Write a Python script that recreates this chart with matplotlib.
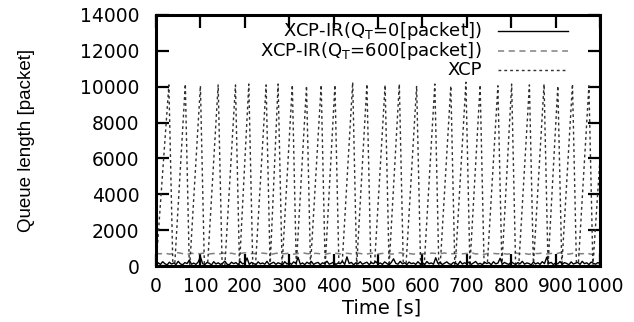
import matplotlib
matplotlib.use("Agg")
import matplotlib.pyplot as plt

# ---------------- data ----------------
# XCP-IR (Q_T = 0 packet): sampled every 5 s
ir0_t_step = 5
ir0_q = [0, 180, 90, 240, 130, 60, 210, 110, 170, 80, 260, 120, 70, 190, 140, 330, 100, 160, 90, 220,
         520, 130, 80, 200, 150, 60, 240, 110, 180, 90, 150, 270, 100, 70, 210, 130, 190, 80, 250, 120,
         160, 450, 90, 200, 140, 70, 230, 120, 170, 100, 260, 80, 150, 210, 90, 180, 130, 60, 240, 110,
         190, 90, 230, 140, 480, 100, 170, 80, 210, 130, 250, 90, 160, 200, 70, 180, 120, 270, 100, 150,
         220, 80, 170, 130, 260, 90, 510, 140, 200, 70, 180, 120, 240, 100, 160, 210, 80, 190, 130, 250,
         110, 170, 90, 230, 140, 60, 200, 400, 150, 100, 260, 120, 180, 80, 220, 130, 170, 90, 240, 110,
         190, 70, 250, 130, 170, 100, 460, 140, 210, 80, 160, 230, 120, 90, 200, 150, 70, 260, 110, 180,
         130, 220, 90, 170, 250, 100, 150, 80, 210, 140, 190, 70, 240, 120, 160, 430, 100, 200, 130, 90,
         230, 150, 80, 190, 120, 260, 100, 170, 140, 60, 220, 110, 180, 90, 240, 130, 490, 150, 200, 80,
         170, 120, 250, 90, 190, 140, 70, 230, 110, 160, 200, 90, 260, 130, 180, 80, 220, 150, 100, 190,
         140]

# XCP-IR (Q_T = 600 packet): sampled every 10 s
ir600_t_step = 10
ir600_q = [700, 680, 720, 660, 700, 740, 690, 650, 710, 680,
           690, 730, 670, 700, 650, 720, 690, 710, 660, 700,
           740, 680, 700, 660, 720, 690, 650, 710, 700, 680,
           720, 660, 700, 740, 690, 670, 710, 680, 650, 700,
           730, 690, 660, 710, 680, 720, 700, 650, 690, 730,
           670, 700, 720, 660, 690, 740, 680, 700, 660, 710,
           690, 650, 720, 700, 680, 730, 660, 690, 710, 680,
           700, 740, 670, 690, 650, 720, 700, 680, 710, 660,
           690, 730, 680, 700, 650, 710, 690, 720, 670, 700,
           680, 740, 690, 660, 710, 700, 680, 720, 650, 690,
           700]

# XCP: vertices of the oscillation
xcp_t = [0, 29, 38, 42, 66, 75, 76, 100, 109, 116, 140, 149, 155, 179, 188, 209, 218, 224,
         248, 257, 275, 284, 307, 316, 339, 348, 372, 381, 403, 412, 419, 443, 452, 475,
         484, 492, 516, 525, 548, 557, 563, 587, 596, 604, 628, 637, 640, 664, 673, 674,
         698, 707, 730, 739, 746, 770, 779, 801, 810, 817, 841, 850, 874, 883, 905, 914,
         938, 947, 951, 975, 984, 1000]
xcp_q = [0, 10100, 0, 0, 10150, 0, 0, 10050, 0, 0, 10100, 0, 0, 10100, 0, 10150, 0, 0,
         10100, 0, 10150, 0, 10100, 0, 10050, 0, 10100, 0, 10100, 0, 0, 10250, 0, 10150,
         0, 0, 10100, 0, 10150, 0, 0, 10050, 0, 0, 10150, 0, 0, 10050, 0, 0,
         10250, 0, 10100, 0, 0, 10050, 0, 10150, 0, 0, 10100, 0, 10150, 0, 10050, 0,
         10150, 0, 0, 10050, 0, 6000]

labels = [r"XCP-IR(Q$_\mathrm{T}$=0[packet])",
          r"XCP-IR(Q$_\mathrm{T}$=600[packet])",
          "XCP"]
x_ticks = [0, 100, 200, 300, 400, 500, 600, 700, 800, 900, 1000]
y_ticks = [0, 2000, 4000, 6000, 8000, 10000, 12000, 14000]

# ---------------- figure ----------------
plt.rcParams["font.family"] = ["DejaVu Sans"]
plt.rcParams["mathtext.fontset"] = "dejavusans"

fig = plt.figure(figsize=(6.34, 3.22), dpi=100)
ax = fig.add_axes([156 / 634, 1 - 266 / 322, 444 / 634, 251 / 322])

ir0_t = [i * ir0_t_step for i in range(len(ir0_q))]
ir600_t = [i * ir600_t_step for i in range(len(ir600_q))]

styles = [dict(color="black", lw=1.0, ls="-"),
          dict(color="#808080", lw=1.1, ls=(0, (4, 3))),
          dict(color="#303030", lw=1.0, ls=(0, (2, 2.2)))]

ax.plot(ir0_t, ir0_q, **styles[0], zorder=3)
ax.plot(ir600_t, ir600_q, **styles[1], zorder=2)
ax.plot(xcp_t, xcp_q, **styles[2], zorder=2)

ax.set_xlim(0, 1000)
ax.set_ylim(0, 14000)
ax.set_xticks(x_ticks)
ax.set_yticks(y_ticks)
ax.set_xticklabels([str(v) for v in x_ticks])
ax.set_yticklabels([str(v) for v in y_ticks])

ax.tick_params(direction="in", top=True, right=True, length=9, width=1.6,
               labelsize=13.5, colors="black")
ax.tick_params(axis="y", pad=12)
ax.tick_params(axis="x", pad=8)
for s in ax.spines.values():
    s.set_linewidth(2.2)

ax.set_xlabel("Time [s]", fontsize=14)
ax.xaxis.set_label_coords(0.509, -0.13)
ax.set_ylabel("Queue length [packet]", fontsize=13.5, family="Liberation Sans")
ax.yaxis.set_label_coords(-0.272, 0.5)

# legend (gnuplot style: right-aligned text, sample on the right)
rows_y = [0.938, 0.857, 0.779]
for lab, st, yy in zip(labels, styles, rows_y):
    ax.text(0.734, yy, lab, transform=ax.transAxes, ha="right", va="center",
            fontsize=13)
    ax.plot([0.770, 0.928], [yy, yy], transform=ax.transAxes,
            color=st["color"], lw=st["lw"], ls=st["ls"], clip_on=False)

fig.savefig("out.png", dpi=100)
